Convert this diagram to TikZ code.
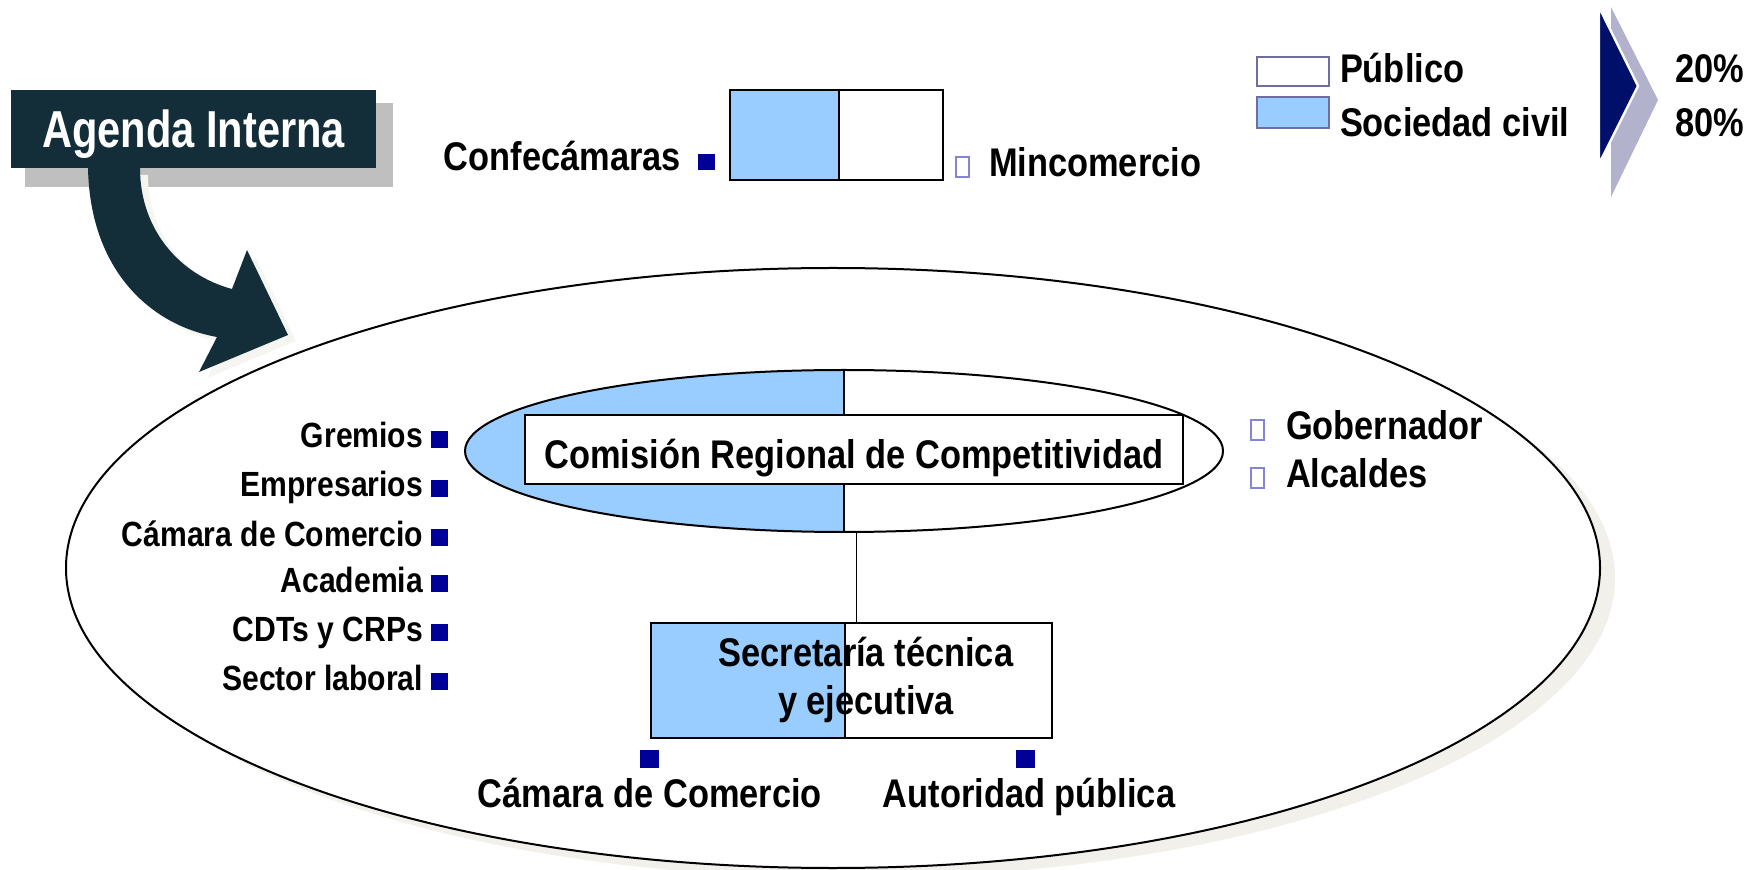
\documentclass[tikz,border=0pt]{standalone}
\usepackage{fontspec}
\setmainfont{Liberation Sans}[FakeStretch=0.86]
\newfontfamily\agendafont{Liberation Sans}[FakeStretch=0.8]
\usetikzlibrary{shapes.geometric,calc}
\definecolor{lblue}{HTML}{99CCFF}
\definecolor{navy}{HTML}{000099}
\definecolor{teal}{HTML}{132E38}
\definecolor{chev}{HTML}{00106A}
\definecolor{chevsh}{HTML}{B2B2CC}
\definecolor{hollow}{HTML}{8484D8}
\definecolor{legline}{HTML}{6E6EA0}
\definecolor{shade}{HTML}{F1F0EB}
\begin{document}
\begin{tikzpicture}[x=0.5pt,y=-0.5pt,
  every node/.style={inner sep=0pt,outer sep=0pt},
  tt/.style={font=\bfseries\fontsize{20pt}{24pt}\selectfont},
  ts/.style={font=\bfseries\fontsize{17.5pt}{21pt}\selectfont},
  fsq/.style={rectangle,fill=navy,draw=none},
  hsq/.style={rectangle,draw=hollow,line width=0.6pt,fill=white,minimum width=6.5pt,minimum height=10pt},
  halfL/.style={path picture={
     \fill[lblue] (path picture bounding box.north west) rectangle
        ($(path picture bounding box.south west)!#1!(path picture bounding box.south east)$);
     \draw[line width=1pt] ($(path picture bounding box.north west)!#1!(path picture bounding box.north east)$) --
        ($(path picture bounding box.south west)!#1!(path picture bounding box.south east)$);}},
  legbox/.style={rectangle,draw=legline,line width=0.9pt,minimum width=36pt}
]
\useasboundingbox (0,0) rectangle (1759,870);

% big ellipse with shadow
\node[ellipse,fill=shade,minimum width=767pt,minimum height=300pt] (bigsh) at (848,578) {};
\node[ellipse,draw,fill=white,line width=1pt,minimum width=767pt,minimum height=300pt] (big) at (833,568) {};

% Comision ellipse
\node[ellipse,draw,fill=white,line width=1pt,minimum width=379pt,minimum height=81pt,halfL=0.5] (crc) at (844,451) {};

% Secretaria box
\node[rectangle,draw,fill=white,line width=1pt,minimum width=200.5pt,minimum height=57.5pt,halfL=0.484] (sec) at (851.5,680.5) {};
\draw[line width=0.7pt] ([xshift=2.5pt]sec.north) -- ([xshift=2.5pt]sec.north |- crc.south);

% Comision box
\node[rectangle,draw,fill=white,line width=1pt,minimum width=329pt,minimum height=34.5pt,
      tt,text height=19.5pt,text depth=0pt] (crcbox) at (854,449.5) {Comisión Regional de Competitividad};

\node[tt,anchor=base] (sec1) at (866,666) {Secretaría técnica};
\node[tt,anchor=base] (sec2) at (866,714) {y ejecutiva};

% bottom labels
\node[fsq,minimum width=9.5pt,minimum height=9pt] (bsq1) at (649.5,759) {};
\node[fsq,minimum width=9.5pt,minimum height=9pt] (bsq2) at (1025,759) {};
\node[tt,anchor=base] (camb) at (650,807) {Cámara de Comercio};
\node[tt,anchor=base] (aut) at (1029,807) {Autoridad pública};

% left list
\foreach \i/\t/\b in {1/Gremios/448,2/Empresarios/497,3/Cámara de Comercio/546,4/Academia/592,5/CDTs y CRPs/641,6/Sector laboral/690}{
  \node[ts,anchor=base east] (lt\i) at (423,\b) {\t};
  \node[fsq,minimum width=8.5pt,minimum height=8.5pt,anchor=south west] (ls\i) at (431,\b) {};
}

% right list
\node[hsq,anchor=south west] (gsq) at (1251,440) {};
\node[tt,anchor=base west] (gob) at (1286,440) {Gobernador};
\node[hsq,anchor=south west] (asq) at (1251,488) {};
\node[tt,anchor=base west] (alc) at (1286,488) {Alcaldes};

% top box
\node[rectangle,draw,fill=white,line width=1pt,minimum width=106.5pt,minimum height=45pt,halfL=0.512] (cm) at (836.5,135) {};
\node[tt,anchor=base east] (conf) at (681,171) {Confecámaras};
\node[fsq,minimum width=8.5pt,minimum height=8pt,anchor=south west] (csq) at (698,170) {};
\node[hsq,anchor=south west] (msq) at (956,177) {};
\node[tt,anchor=base west] (minc) at (989,177) {Mincomercio};

% legend
\node[legbox,fill=white,minimum height=14.5pt] (lpub) at (1293,71.5) {};
\node[legbox,fill=lblue,minimum height=15.5pt] (lsoc) at (1293,112.5) {};
\node[tt,anchor=base west] (tpub) at (1340,83) {Público};
\node[tt,anchor=base west] (tsoc) at (1340,137) {Sociedad civil};
\fill[chevsh] (1611,7) -- (1658,100) -- (1611,197) -- cycle;
\filldraw[fill=chev,draw=white,line width=1.2pt,line join=miter] (1599,7) -- (1638,86) -- (1599,164) -- cycle;
\node[tt,anchor=base west] (p20) at (1675,83) {20\%};
\node[tt,anchor=base west] (p80) at (1675,137) {80\%};

% Agenda Interna box with shadow
\fill[black!25] (25,103) rectangle (393,187);
% curved arrow shadow
\fill[shade!70!white] ($(88,169)+(8,6)$) .. controls (96,276) and (158,331) .. (225,343)
   -- (207,378) -- (296,341) -- (255,256) -- (240,295)
   .. controls (188,281) and (148,236) .. (148,175) -- cycle;
\node[rectangle,fill=teal,minimum width=182.5pt,minimum height=39pt,text=white,
      font=\agendafont\bfseries\fontsize{26pt}{30pt}\selectfont,text height=18.5pt,text depth=0pt] (agenda) at (193.5,129) {Agenda Interna};
% curved arrow
\fill[teal] (agenda.south -| 88,0) .. controls (90,270) and (150,325) .. (217,337)
   -- (199,372) -- (288,335) -- (247,250) -- (232,289)
   .. controls (180,275) and (140,230) .. (agenda.south -| 140,0) -- cycle;
\end{tikzpicture}
\end{document}
